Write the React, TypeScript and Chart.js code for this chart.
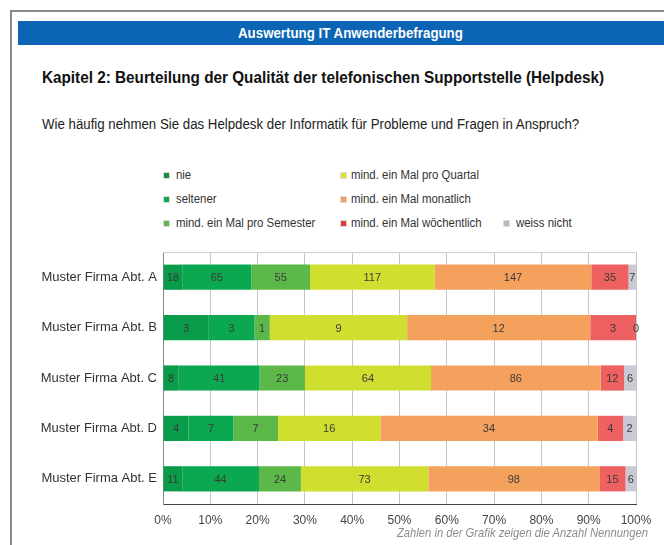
import React, { useEffect, useRef } from "react";
import { Chart, registerables } from "chart.js";

Chart.register(...registerables);

const categories = [
  "Muster Firma Abt. A",
  "Muster Firma Abt. B",
  "Muster Firma Abt. C",
  "Muster Firma Abt. D",
  "Muster Firma Abt. E",
];

const seriesNames = [
  "nie",
  "seltener",
  "mind. ein Mal pro Semester",
  "mind. ein Mal pro Quartal",
  "mind. ein Mal monatlich",
  "mind. ein Mal wöchentlich",
  "weiss nicht",
];

const nie = [18, 3, 8, 4, 11];
const seltener = [65, 3, 41, 7, 44];
const semester = [55, 1, 23, 7, 24];
const quartal = [117, 9, 64, 16, 73];
const monatlich = [147, 12, 86, 34, 98];
const woechentlich = [35, 3, 12, 4, 15];
const weissNicht = [7, 0, 6, 2, 6];

const seriesValues = [nie, seltener, semester, quartal, monatlich, woechentlich, weissNicht];

const seriesColors = ["#0a9c4a", "#0ba851", "#5cb848", "#d0df2f", "#f5a15e", "#ee6161", "#c9cad6"];
const legendColors = ["#1b8a46", "#10a552", "#5cb848", "#d6e03c", "#f0a060", "#e03a3a", "#b8b8c2"];

const xTickLabels = ["0%", "10%", "20%", "30%", "40%", "50%", "60%", "70%", "80%", "90%", "100%"];

const FONT = "'Liberation Sans', Arial, Helvetica, sans-serif";

const legendLayout = [
  { idx: 0, x: 163, tx: 176, y: 175 },
  { idx: 1, x: 163, tx: 176, y: 199 },
  { idx: 2, x: 163, tx: 176, y: 223 },
  { idx: 3, x: 340, tx: 351, y: 175 },
  { idx: 4, x: 340, tx: 351, y: 199 },
  { idx: 5, x: 340, tx: 351, y: 223 },
  { idx: 6, x: 503, tx: 516, y: 223 },
];

export default function App() {
  const canvasRef = useRef<HTMLCanvasElement | null>(null);

  useEffect(() => {
    const totals = categories.map((_, ci) =>
      seriesValues.reduce((s, arr) => s + arr[ci], 0)
    );
    const datasets = seriesValues.map((arr, si) => ({
      label: seriesNames[si],
      data: arr.map((v, ci) => (v / totals[ci]) * 100),
      counts: arr,
      backgroundColor: seriesColors[si],
      borderWidth: 0,
      categoryPercentage: 1,
      barPercentage: 0.5,
    }));

    const labelPlugin = {
      id: "segLabels",
      afterDatasetsDraw(chart: any) {
        const ctx = chart.ctx;
        ctx.save();
        ctx.font = `11px ${FONT}`;
        ctx.fillStyle = "#3a3a3a";
        ctx.textAlign = "center";
        ctx.textBaseline = "middle";
        chart.data.datasets.forEach((ds: any, di: number) => {
          const meta = chart.getDatasetMeta(di);
          meta.data.forEach((el: any, i: number) => {
            const cx = (el.x + el.base) / 2;
            ctx.fillText(String(ds.counts[i]), cx, el.y + 1);
          });
        });
        ctx.restore();
      },
    };

    const topLinePlugin = {
      id: "topLine",
      beforeDatasetsDraw(chart: any) {
        const { ctx, chartArea } = chart;
        ctx.save();
        ctx.strokeStyle = "#d0d0d0";
        ctx.lineWidth = 1;
        ctx.beginPath();
        ctx.moveTo(chartArea.left, chartArea.top + 0.5);
        ctx.lineTo(chartArea.right, chartArea.top + 0.5);
        ctx.stroke();
        ctx.restore();
      },
    };

    const chart = new Chart(canvasRef.current as HTMLCanvasElement, {
      type: "bar",
      data: { labels: categories, datasets: datasets as any },
      options: {
        indexAxis: "y",
        animation: false,
        responsive: false,
        maintainAspectRatio: false,
        layout: { padding: { top: 252, right: 28, left: 0, bottom: 0 } },
        plugins: {
          legend: { display: false },
          tooltip: { enabled: false },
        },
        scales: {
          x: {
            stacked: true,
            min: 0,
            max: 100,
            grid: { color: "#c6c6c6", lineWidth: 1, drawTicks: false },
            border: { color: "#444444", width: 1 },
            ticks: {
              stepSize: 10,
              padding: 9,
              color: "#444444",
              font: { family: FONT, size: 12 },
              callback: (_v: any, i: number) => xTickLabels[i],
            },
            afterFit: (scale: any) => {
              scale.height = 41;
            },
          },
          y: {
            stacked: true,
            grid: { display: false, drawTicks: false },
            border: { color: "#888888", width: 1 },
            ticks: {
              padding: 6,
              color: "#333333",
              font: { family: FONT, size: 13 },
            },
            afterFit: (scale: any) => {
              scale.width = 163;
            },
          },
        },
      },
      plugins: [labelPlugin, topLinePlugin],
    });
    return () => chart.destroy();
  }, []);

  const squeeze = (s: number): React.CSSProperties => ({
    transform: `scaleX(${s})`,
    transformOrigin: "left center",
  });

  return (
    <div
      style={{
        position: "absolute",
        left: 0,
        top: 0,
        width: 664,
        height: 545,
        overflow: "hidden",
        background: "#ffffff",
        fontFamily: FONT,
      }}
    >
      <div
        style={{
          position: "absolute",
          left: 10,
          top: 10,
          width: 700,
          height: 600,
          borderLeft: "2px solid #8a8a8a",
          borderTop: "2px solid #8a8a8a",
        }}
      />
      <div
        style={{
          position: "absolute",
          left: 18,
          top: 21,
          width: 646,
          height: 24,
          background: "#0b64b4",
        }}
      />
      <div
        style={{
          position: "absolute",
          left: 238,
          top: 21,
          height: 24,
          lineHeight: "24px",
          color: "#ffffff",
          fontWeight: "bold",
          fontSize: 14,
          whiteSpace: "nowrap",
          ...squeeze(0.95),
        }}
      >
        Auswertung IT Anwenderbefragung
      </div>
      <div
        style={{
          position: "absolute",
          left: 42,
          top: 68,
          fontWeight: "bold",
          fontSize: 16,
          color: "#111111",
          whiteSpace: "nowrap",
          lineHeight: "20px",
          ...squeeze(0.955),
        }}
      >
        Kapitel 2: Beurteilung der Qualität der telefonischen Supportstelle (Helpdesk)
      </div>
      <div
        style={{
          position: "absolute",
          left: 42,
          top: 115,
          fontSize: 14,
          color: "#222222",
          whiteSpace: "nowrap",
          lineHeight: "18px",
          ...squeeze(0.947),
        }}
      >
        Wie häufig nehmen Sie das Helpdesk der Informatik für Probleme und Fragen in Anspruch?
      </div>
      {legendLayout.map((l) => (
        <React.Fragment key={l.idx}>
          <div
            style={{
              position: "absolute",
              left: l.x,
              top: l.y - 3,
              width: 5,
              height: 5,
              background: legendColors[l.idx],
              border: "1px solid #dddddd",
            }}
          />
          <div
            style={{
              position: "absolute",
              left: l.tx,
              top: l.y - 8,
              fontSize: 12,
              lineHeight: "16px",
              color: "#333333",
              whiteSpace: "nowrap",
              ...squeeze(0.95),
            }}
          >
            {seriesNames[l.idx]}
          </div>
        </React.Fragment>
      ))}
      <canvas
        ref={canvasRef}
        width={664}
        height={545}
        style={{ position: "absolute", left: 0, top: 0, width: 664, height: 545 }}
      />
      <div
        style={{
          position: "absolute",
          left: 397,
          top: 525,
          fontSize: 12,
          fontStyle: "italic",
          color: "#8c8c8c",
          whiteSpace: "nowrap",
          lineHeight: "16px",
          ...squeeze(0.935),
        }}
      >
        Zahlen in der Grafik zeigen die Anzahl Nennungen
      </div>
    </div>
  );
}
